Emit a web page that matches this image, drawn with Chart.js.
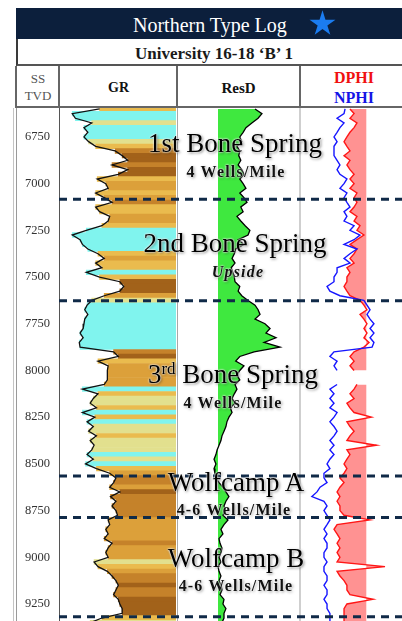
<!DOCTYPE html>
<html>
<head>
<meta charset="utf-8">
<script src="https://cdn.jsdelivr.net/npm/chart.js@4.4.1/dist/chart.umd.min.js"></script>
<style>
  html, body { margin: 0; padding: 0; background: #fff; }
  body { width: 402px; height: 621px; position: relative; overflow: hidden; font-family: "Liberation Serif", "DejaVu Serif", serif; }
  .abs { position: absolute; }
  canvas { position: absolute; display: block; }
  #title { left: 16px; top: 8px; width: 386px; height: 31px; background: #0c1f3c; }
  .line { position: absolute; }
  .fm { position: absolute; width: 240px; text-align: center; white-space: nowrap; color: #000;
        font-size: 27px; line-height: 27px;
        text-shadow: 0 0 2px #fff, 0 0 2px #fff, 1px 1px 3px rgba(0,0,0,0.6); }
  .sm { position: absolute; width: 240px; text-align: center; white-space: nowrap; color: #111;
        font-size: 16px; line-height: 16px; font-weight: bold; letter-spacing: 1.2px;
        text-shadow: 0 0 2px #fff, 0 0 2px #fff, 1px 1px 3px rgba(0,0,0,0.5); }
  .hd { position: absolute; white-space: nowrap; font-weight: bold; text-align: center; }
</style>
</head>
<body>

<div id="title" class="abs"></div>
<div class="abs" style="left:133px; top:15px; color:#fff; font-size:20px; line-height:20px;">Northern Type Log</div>
<svg class="abs" style="left:309px; top:10px;" width="27" height="26" viewBox="0 0 100 95">
  <polygon points="50,0 61,35 98,35 68,57 79,91 50,70 21,91 32,57 2,35 39,35" fill="#1b7cf0"/>
</svg>

<div class="abs" style="left:16px; top:39px; width:386px; height:27px; box-sizing:border-box; border-left:2px solid #3a3a3a; border-bottom:2px solid #555;"></div>
<div class="hd" style="left:16px; width:396px; top:45px; font-size:17px; line-height:17px; color:#1a1a1a;">University 16-18 ‘B’ 1</div>

<!-- header grid -->
<div class="line" style="left:15px; top:66px; width:2px; height:42px; background:#666;"></div>
<div class="line" style="left:58px; top:66px; width:2px; height:42px; background:#666;"></div>
<div class="line" style="left:176px; top:66px; width:2px; height:42px; background:#666;"></div>
<div class="line" style="left:299px; top:66px; width:2px; height:42px; background:#666;"></div>
<div class="line" style="left:15px; top:106px; width:387px; height:2px; background:#666;"></div>

<div class="hd" style="left:17px; width:42px; top:72px; font-size:13px; line-height:13px; font-weight:normal; color:#555;">SS</div>
<div class="hd" style="left:17px; width:42px; top:89px; font-size:13px; line-height:13px; font-weight:normal; color:#555;">TVD</div>
<div class="hd" style="left:60px; width:117px; top:81px; font-size:14px; line-height:14px; color:#111;">GR</div>
<div class="hd" style="left:178px; width:121px; top:81px; font-size:15px; line-height:15px; color:#111;">ResD</div>
<div class="hd" style="left:301px; width:106px; top:70px; font-size:16px; line-height:16px; color:#f01010;">DPHI</div>
<div class="hd" style="left:301px; width:106px; top:90px; font-size:16px; line-height:16px; color:#1414e6;">NPHI</div>

<!-- tracks -->
<canvas id="gr" width="117" height="513" style="left:59px; top:108px; width:117px; height:513px;"></canvas>
<canvas id="res" width="123" height="513" style="left:177px; top:108px; width:123px; height:513px;"></canvas>
<canvas id="por" width="102" height="513" style="left:300px; top:108px; width:102px; height:513px;"></canvas>

<!-- track separators -->
<div class="line" style="left:13px; top:108px; width:1px; height:513px; background:#c4c4c4;"></div>
<div class="line" style="left:16px; top:108px; width:1px; height:513px; background:#9a9a9a;"></div>
<div class="line" style="left:59px; top:108px; width:1px; height:513px; background:#555;"></div>
<div class="line" style="left:177px; top:108px; width:1px; height:513px; background:#a8a8a8;"></div>
<div class="line" style="left:299px; top:108px; width:2px; height:513px; background:#cfcfcf;"></div>

<canvas id="overlay" width="386" height="513" style="left:16px; top:108px; width:386px; height:513px;"></canvas>

<!-- formation labels -->
<div class="fm" style="left:115px; top:130px;">1st Bone Spring</div>
<div class="sm" style="left:116px; top:164px;">4 Wells/Mile</div>
<div class="fm" style="left:115px; top:230px;">2nd Bone Spring</div>
<div class="sm" style="left:118px; top:264px; font-style:italic;">Upside</div>
<div class="fm" style="left:113px; top:361px;">3<span style="font-size:17px; vertical-align:9px; line-height:0;">rd</span> Bone Spring</div>
<div class="sm" style="left:113px; top:395px;">4 Wells/Mile</div>
<div class="fm" style="left:116px; top:469px;">Wolfcamp A</div>
<div class="sm" style="left:114px; top:502px;">4-6 Wells/Mile</div>
<div class="fm" style="left:116px; top:545px;">Wolfcamp B</div>
<div class="sm" style="left:116px; top:578px;">4-6 Wells/Mile</div>

<script>
// depth samples (ft, SS TVD), 25 ft spacing
const DEPTH = [
  6600, 6625, 6650, 6675, 6700, 6725, 6750, 6775, 6800, 6825,
  6850, 6875, 6900, 6925, 6950, 6975, 7000, 7025, 7050, 7075,
  7100, 7125, 7150, 7175, 7200, 7225, 7250, 7275, 7300, 7325,
  7350, 7375, 7400, 7425, 7450, 7475, 7500, 7525, 7550, 7575,
  7600, 7625, 7650, 7675, 7700, 7725, 7750, 7775, 7800, 7825,
  7850, 7875, 7900, 7925, 7950, 7975, 8000, 8025, 8050, 8075,
  8100, 8125, 8150, 8175, 8200, 8225, 8250, 8275, 8300, 8325,
  8350, 8375, 8400, 8425, 8450, 8475, 8500, 8525, 8550, 8575,
  8600, 8625, 8650, 8675, 8700, 8725, 8750, 8775, 8800, 8825,
  8850, 8875, 8900, 8925, 8950, 8975, 9000, 9025, 9050, 9075,
  9100, 9125, 9150, 9175, 9200, 9225, 9250, 9275, 9300, 9325,
  9350
];

// gamma ray, API
const GR = [
  52, 17, 21, 42, 32, 37, 32, 38, 47, 72,
  81, 88, 68, 88, 76, 49, 60, 63, 47, 58,
  68, 47, 52, 65, 63, 55, 35, 17, 27, 30,
  37, 50, 58, 47, 55, 35, 52, 78, 83, 78,
  58, 42, 36, 33, 37, 33, 32, 31, 27, 31,
  26, 27, 70, 76, 50, 63, 62, 62, 62, 58,
  30, 50, 44, 40, 48, 30, 46, 36, 44, 38,
  48, 40, 45, 42, 36, 44, 34, 48, 65, 73,
  70, 65, 78, 66, 73, 68, 73, 75, 63, 65,
  60, 63, 58, 68, 63, 60, 63, 45, 50, 62,
  68, 73, 76, 73, 70, 76, 78, 81, 81, 55,
  40
];

// deep resistivity, ohm-m
const RESD = [
  80, 118, 95, 67, 48, 41, 34, 38, 29, 34,
  32, 36, 31, 38, 43, 34, 41, 48, 34, 43,
  51, 36, 41, 29, 36, 46, 60, 54, 31, 43,
  27, 25, 22, 26, 21, 23, 25, 26, 34, 31,
  38, 54, 80, 95, 106, 80, 140, 186, 148, 260,
  133, 325, 76, 34, 27, 43, 34, 29, 34, 26,
  29, 25, 22, 26, 20, 22, 18.5, 16.5, 15.6, 14,
  12.5, 11.8, 10.6, 9.5, 8.9, 8.0, 8.9, 8.0, 8.4, 8.9,
  10.6, 13.2, 15.6, 18.5, 15.6, 14, 15.6, 13.2, 17.5, 14,
  11.8, 13.2, 10.6, 11.2, 12.5, 11.8, 10.6, 11.8, 10, 10.6,
  11.8, 10.6, 11.8, 12.5, 11.2, 14, 13.2, 15.6, 14, 14,
  12.5
];

// density porosity, v/v
const DPHI = [
  0.156, 0.132, 0.156, 0.115, 0.132, 0.156, 0.174, 0.191, 0.174, 0.156,
  0.191, 0.156, 0.174, 0.156, 0.132, 0.156, 0.132, 0.156, 0.115, 0.132,
  0.115, 0.132, 0.156, 0.115, 0.132, 0.097, 0.115, 0.074, 0.115, 0.156,
  0.115, 0.132, 0.156, 0.132, 0.174, 0.156, 0.174, 0.174, 0.191, 0.174,
  0.156, 0.097, 0.074, 0.056, 0.097, 0.074, 0.056, 0.074, 0.056, 0.074,
  0.044, 0.074, 0.132, 0.156, 0.132, 0.156, 0.132, null, null, 0.115,
  0.132, 0.156, 0.132, 0.174, 0.156, 0.132, 0.03, 0.174, 0.156, 0.132,
  0.156, 0.174, 0.0, 0.174, 0.156, 0.174, 0.191, 0.174, 0.191, 0.215,
  0.191, 0.215, 0.232, 0.215, 0.232, 0.215, 0.215, 0.191, 0.04, 0.232,
  0.25, 0.232, 0.215, 0.232, 0.215, 0.232, 0.215, 0.232, -0.05, 0.232,
  0.215, 0.191, 0.174, 0.174, 0.156, 0.02, 0.174, 0.191, 0.191, 0.191,
  0.191
];

// neutron porosity, v/v
const NPHI = [
  0.185, 0.191, 0.232, 0.191, 0.215, 0.232, 0.25, 0.232, 0.25, 0.25,
  0.25, 0.232, 0.215, 0.232, 0.215, 0.174, 0.191, 0.215, 0.174, 0.191,
  0.174, 0.156, 0.191, 0.174, 0.191, 0.132, 0.156, 0.097, 0.132, 0.191,
  0.115, 0.156, 0.191, 0.156, 0.232, 0.232, 0.25, 0.25, 0.291, 0.274,
  0.215, 0.074, 0.056, 0.038, 0.056, 0.038, 0.015, 0.038, 0.015, 0.038,
  0.015, 0.026, 0.25, 0.274, 0.232, 0.25, 0.232, null, null, 0.232,
  0.274, 0.25, 0.274, 0.25, 0.274, 0.232, 0.25, 0.274, 0.25, 0.232,
  0.25, 0.274, 0.25, 0.274, 0.25, 0.274, 0.291, 0.274, 0.309, 0.309,
  0.291, 0.332, 0.35, 0.38, 0.309, 0.291, 0.309, 0.291, 0.274, 0.291,
  0.309, 0.291, 0.309, 0.291, 0.291, 0.309, 0.309, 0.291, 0.309, 0.309,
  0.291, 0.291, 0.309, 0.291, 0.291, 0.309, 0.291, 0.291, 0.274, 0.274,
  0.274
];

// formation tops, ft
const TOPS = [7083, 7627, 8565, 8787, 9318];
const DEPTH_TICKS = [6750, 7000, 7250, 7500, 7750, 8000, 8250, 8500, 8750, 9000, 9250];

const TOP_DEPTH = 6595;
const BASE_DEPTH = 9341;
const GR_MAX = 150;
const RES_BASE = 10;
const PHI_CUTOFF = 0.06;

const pts = vals => DEPTH.map((d, i) => ({ y: d, x: vals[i] }));

// GR shading colour by value
function grColor(v) {
  if (v < 38) return "#80f4ee";
  if (v < 46) return "#e2e08e";
  if (v < 56) return "#eabb4e";
  if (v < 66) return "#dca03a";
  if (v < 76) return "#c5822a";
  return "#a2621a";
}

function trackOptions(xScale) {
  return {
    responsive: false,
    animation: false,
    indexAxis: "y",
    layout: { padding: 0 },
    plugins: { legend: { display: false }, tooltip: { enabled: false } },
    elements: { point: { radius: 0 }, line: { tension: 0 } },
    scales: {
      y: { type: "linear", reverse: true, min: TOP_DEPTH, max: BASE_DEPTH, display: false, offset: false },
      x: Object.assign({ display: false }, xScale),
    },
  };
}

// GR track
new Chart(document.getElementById("gr"), {
  type: "bar",
  data: {
    datasets: [
      { type: "line", data: pts(GR), borderColor: "#111", borderWidth: 1.3, order: 0 },
      {
        type: "bar",
        data: DEPTH.map((d, i) => ({ y: d, x: [GR[i], GR_MAX] })),
        backgroundColor: GR.map(grColor),
        barPercentage: 1,
        categoryPercentage: 1,
        order: 1,
      },
    ],
  },
  options: trackOptions({ type: "linear", min: 0, max: GR_MAX }),
});

// ResD track
new Chart(document.getElementById("res"), {
  type: "line",
  data: {
    datasets: [
      {
        data: pts(RESD),
        borderColor: "#000",
        borderWidth: 1.3,
        fill: { value: RES_BASE },
        backgroundColor: "#3fe83f",
      },
    ],
  },
  options: trackOptions({ type: "logarithmic", min: 1, max: 1000 }),
});

// porosity track
new Chart(document.getElementById("por"), {
  type: "line",
  data: {
    datasets: [
      { data: pts(NPHI), borderColor: "#1616ff", borderWidth: 1.4, order: 0 },
      {
        data: pts(DPHI),
        borderColor: "#ff1616",
        borderWidth: 1.4,
        fill: { value: PHI_CUTOFF },
        backgroundColor: "rgba(255,100,100,0.7)",
        order: 1,
      },
    ],
  },
  options: trackOptions({ type: "linear", min: -0.15, max: 0.45, reverse: true }),
});

// depth axis + formation tops
new Chart(document.getElementById("overlay"), {
  type: "line",
  data: {
    datasets: TOPS.map(t => ({
      data: [{ x: 0, y: t }, { x: 1, y: t }],
      borderColor: "#102a48",
      borderWidth: 3,
      borderDash: [8, 6],
    })),
  },
  options: {
    responsive: false,
    animation: false,
    layout: { padding: 0 },
    plugins: { legend: { display: false }, tooltip: { enabled: false } },
    elements: { point: { radius: 0 } },
    scales: {
      x: { type: "linear", min: 0, max: 1, display: false },
      y: {
        type: "linear",
        reverse: true,
        min: TOP_DEPTH,
        max: BASE_DEPTH,
        position: "left",
        grid: { display: false, drawTicks: false },
        border: { display: false },
        afterBuildTicks: s => { s.ticks = DEPTH_TICKS.map(v => ({ value: v })); },
        afterFit: s => { s.width = 43; s.paddingTop = 0; s.paddingBottom = 0; },
        ticks: {
          font: { family: "Liberation Serif", size: 12.5 },
          color: "#333",
          padding: 9,
          autoSkip: false,
          callback: v => String(v),
        },
      },
    },
  },
});
</script>
</body>
</html>
